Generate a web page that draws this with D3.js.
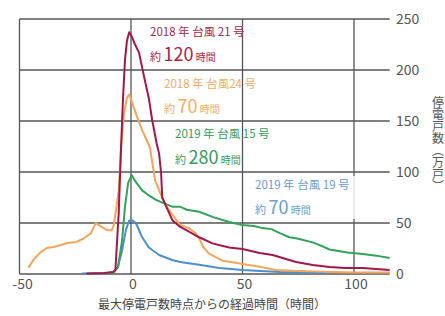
<!DOCTYPE html>
<html><head><meta charset="utf-8">
<script src="https://cdn.jsdelivr.net/npm/d3@7"></script>
<style>
body{margin:0;background:#fff;}
text{font-family:"Noto Sans CJK JP","Noto Sans",sans-serif;}
</style></head>
<body><svg id="c" width="445" height="316"></svg>
<script>
// ---- data ----
const yTicks = [0, 50, 100, 150, 200, 250];
const xTicks = [-50, 0, 50, 100];
const xTitle = "最大停電戸数時点からの経過時間（時間）";
const yTitle = "停電戸数（万戸）";

const t21 = [-20,-12,-8,-7,-5.5,-4.5,-3.6,-2.7,-1.8,-0.8,0.5,1.8,3.6,5.9,8.1,9.5,11.5,12.6,13.5,14,15.8,18.5,21.5,24.8,30.6,36.5,44,50,57.7,63.5,71,74,81.5,89,96,104,116];
const v21 = [0.5,1,2,4,60,122,171,210,229,237,232,225,217,193,171,151,128,118,99,75,66,53,47,43,36,30,26,24.5,20.6,18.6,13.7,11.8,8.8,6.9,6,5.9,4];

const t24 = [-46,-43.7,-40.5,-37.8,-34.7,-31.5,-28.8,-24.3,-21.2,-18,-16.7,-15.8,-13,-10.8,-8.6,-7.7,-5.5,-4.5,-3.2,-1.8,-0.8,0.5,2.7,5,8.5,10.8,13.9,16,19,22,26,29,31,32.5,35,41,47,52,58,65,75,90,100,116];
const v24 = [6,14,21.5,25.5,26.5,28.4,30.4,31.4,35,40,46,50,46,43,43,48,82,122,156,173,176,168,154,141,124,92,75,66,57,48,45,40,33,26,20,13,11,9,7,4,3,2,1.5,1.5];

const t15 = [-12,-8,-5.8,-4,-2.7,-1.3,0.3,2.2,5,8,11,14,18.5,22,25,30.6,36.5,44,50,55,59,63,66.7,71,74,81.5,86,89,97,104,110,116];
const v15 = [0.5,1,7,33,66,89,97,90,82,77,73,70,66,66,63,61,56,51,48,47,45,44,40,36,35,31,27,24,21,19.6,18,15.7];

const t19 = [-22,-15,-10,-8,-6,-4,-2.3,-0.9,0.3,2.2,5,8,12.6,18.5,21.6,25,30.6,39.6,50,58,66.7,75,89];
const v19 = [0.5,0.5,1,2,6,23,43,52,53,50,36,26,18.6,13.7,12,10.8,9,5.9,4,3,2,1.5,1];

const seriesNames = ["2019 年 台風 19 号","2019 年 台風 15 号","2018 年 台風24 号","2018 年 台風 21 号"];
const seriesHours = ["70","280","70","120"];

// ---- drawing ----
const svg = d3.select("#c");
const x = d3.scaleLinear().domain([-50, 100]).range([19.5, 354]);
const y = d3.scaleLinear().domain([0, 250]).range([274, 19]);
const xMax = 116;

const grid = svg.append("g").attr("stroke", "#555").attr("stroke-width", 1.3);
grid.selectAll("line.h").data(yTicks).join("line")
  .attr("x1", x(-50)).attr("x2", x(xMax)).attr("y1", d => y(d)).attr("y2", d => y(d));
grid.selectAll("line.v").data(xTicks).join("line")
  .attr("x1", d => x(d)).attr("x2", d => x(d)).attr("y1", y(250)).attr("y2", y(0));

// right axis labels
svg.append("g").selectAll("text").data(yTicks).join("text")
  .attr("x", 396).attr("y", d => y(d)).attr("dy", "0.36em")
  .attr("font-size", 14).attr("fill", "#555").text(d => d);
// bottom labels
svg.append("g").selectAll("text").data(xTicks).join("text")
  .attr("x", d => x(d) + (d < 0 ? 3 : 2)).attr("y", 289)
  .attr("text-anchor", "middle").attr("font-size", 14).attr("fill", "#555").text(d => d);

svg.append("text").attr("x", 212).attr("y", 309).attr("text-anchor", "middle")
  .attr("font-size", 12).attr("fill", "#444").text(xTitle);
svg.append("text").attr("x", 438).attr("y", 96)
  .attr("font-size", 12).attr("fill", "#555")
  .style("writing-mode", "vertical-rl").text(yTitle);

// label box for 19
svg.append("rect").attr("x", 249).attr("y", 176).attr("width", 112).attr("height", 43)
  .attr("fill", "#fff").attr("fill-opacity", 0.8);

const line = d3.line().x(d => x(d[0])).y(d => y(d[1]));
const series = [
  {t: t19, v: v19, c: "#4b8fcd"},
  {t: t15, v: v15, c: "#33a25a"},
  {t: t24, v: v24, c: "#f2a55c"},
  {t: t21, v: v21, c: "#a3174a"}
];
svg.append("g").selectAll("path").data(series).join("path")
  .attr("d", s => line(s.t.map((tt, i) => [tt, s.v[i]])))
  .attr("fill", "none").attr("stroke", s => s.c).attr("stroke-width", 2)
  .attr("stroke-linejoin", "round");

// annotations
const annPos = [[255, 189, 214], [175, 138, 164], [164, 88, 113], [150, 36, 61]];
const annCol = ["#6b9bd0", "#3a9a5c", "#f0ad66", "#a8244e"];
seriesNames.forEach((nm, i) => {
  const [ax, ay1, ay2] = annPos[i];
  svg.append("text").attr("x", ax).attr("y", ay1).attr("font-size", 11.5)
    .attr("fill", annCol[i]).text(nm);
  const t = svg.append("text").attr("x", ax).attr("y", ay2).attr("fill", annCol[i]);
  t.append("tspan").attr("font-size", 11).text("約 ");
  t.append("tspan").attr("font-size", 18).text(seriesHours[i]);
  t.append("tspan").attr("font-size", 10).text(" 時間");
});
</script></body></html>
